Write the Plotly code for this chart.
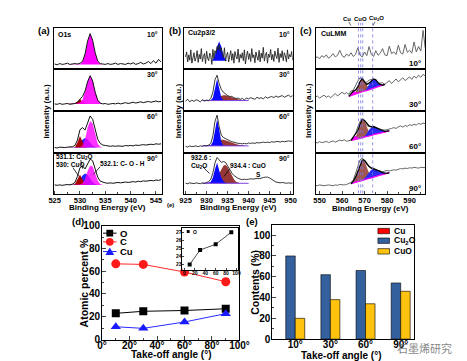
import plotly.graph_objects as go

W, H = 467, 361
def PX(x): return x / W
def PY(y): return 1 - y / H

FONT = "Liberation Sans, Arial, sans-serif"

# ---------------- Panel (a) O1s (x from 525 eV, step 0.5) ----------------
a_x0, a_dx = 525.0, 0.5
a10 = [.13,.11,.14,.12,.13,.15,.12,.13,.14,.13, .15,.19,.37,.68,.86,.70,.40,.20,.14,.13,
       .12,.14,.12,.13,.15,.12,.14,.13,.12,.15, .13,.16,.12,.14,.17,.13,.15,.19,.14,.21, .15,.24,.18]
a30 = [.17,.16,.18,.16,.17,.18,.16,.17,.18,.21, .28,.35,.48,.70,.85,.72,.45,.26,.19,.17,
       .18,.16,.17,.18,.17,.19,.17,.18,.20,.18, .19,.21,.19,.20,.22,.20,.21,.23,.21,.22, .24,.22,.23]
a60 = [.12,.11,.13,.12,.12,.13,.13,.14,.17,.30, .55,.60,.54,.72,.88,.80,.52,.32,.22,.18,
       .17,.16,.15,.16,.15,.16,.16,.15,.17,.16, .17,.16,.18,.17,.18,.19,.18,.19,.20,.19, .21,.20,.21]
a90 = [.21,.20,.21,.20,.21,.22,.21,.23,.27,.42, .63,.67,.60,.72,.84,.80,.58,.40,.30,.27,
       .26,.25,.26,.25,.26,.27,.26,.27,.28,.27, .28,.29,.28,.30,.29,.31,.30,.31,.32,.31, .33,.32,.34]
# fitted components (x from 527 eV, step 0.5), heights above the fit baseline
a_c0, a_cdx = 527.0, 0.5
a_fit_base = [0.12, 0.17, 0.12, 0.21]
a10_mag = [0,0,0,0,0,0,.01,.05,.24,.55,.74,.58,.27,.07,.01,0,0,0,0,0,0]
a30_red = [0,0,0,0,.01,.05,.12,.05,.01,0,0,0,0,0,0,0,0,0,0,0,0]
a30_mag = [0,0,0,0,0,.01,.03,.10,.30,.55,.68,.57,.30,.10,.02,0,0,0,0,0,0]
a60_red = [0,0,0,0,.01,.12,.28,.14,.02,0,0,0,0,0,0,0,0,0,0,0,0]
a60_blue = [0,0,0,0,.01,.04,.11,.19,.23,.20,.12,.05,.02,0,0,0,0,0,0,0,0]
a60_mag = [0,0,0,0,0,0,.01,.05,.20,.48,.64,.58,.30,.09,.02,0,0,0,0,0,0]
a90_red = [0,0,0,0,.02,.12,.25,.13,.02,0,0,0,0,0,0,0,0,0,0,0,0]
a90_blue = [0,0,0,0,.01,.05,.13,.23,.28,.25,.16,.07,.02,0,0,0,0,0,0,0,0]
a90_mag = [0,0,0,0,0,0,.01,.04,.14,.34,.47,.45,.28,.10,.02,0,0,0,0,0,0]

# ---------------- Panel (b) Cu2p3/2 ----------------
b10_x0, b10_dx = 925.0, 0.25
b10 = [.30,.42,.18,.35,.22,.47,.15,.33,.40,.20, .28,.45,.17,.36,.25,.50,.19,.31,.38,.14,
       .44,.27,.21,.39,.33,.12,.48,.26,.45,.38, .55,.47,.60,.44,.52,.35,.28,.52,.20,.34,
       .41,.18,.29,.45,.22,.38,.15,.43,.31,.25, .49,.17,.36,.27,.40,.21,.47,.13,.33,.44,
       .24,.38,.19,.50,.28,.35,.16,.42,.30,.22, .46,.18,.39,.27,.53,.20,.34,.41,.15,.37,
       .29,.48,.23,.36,.19,.44,.32,.26,.51,.17, .38,.28,.45,.21,.40,.33,.18,.47,.25,.36,
       .30,.43,.22]
b_x0, b_dx = 925.0, 0.5
b30 = [.24,.28,.22,.26,.23,.27,.25,.22,.27,.24, .26,.25,.30,.45,.75,.86,.66,.52,.45,.40,
       .37,.35,.35,.32,.30,.31,.28,.30,.27,.31, .29,.32,.30,.28,.33,.30,.32,.29,.34,.31,
       .33,.35,.32,.36,.33,.35,.37,.33,.36,.38, .34,.37]
b60 = [.15,.13,.16,.14,.15,.16,.14,.16,.15,.17, .16,.18,.22,.40,.75,.90,.62,.42,.36,.33,
       .30,.28,.26,.25,.23,.22,.22,.21,.22,.21, .23,.22,.23,.22,.24,.23,.24,.25,.24,.25,
       .24,.26,.25,.26,.27,.25,.27,.26,.27,.28, .27,.28]
b90 = [.25,.24,.26,.25,.24,.26,.25,.24,.26,.25, .27,.29,.35,.50,.75,.88,.82,.76,.78,.76,
       .68,.58,.50,.44,.40,.37,.35,.34,.35,.34, .35,.36,.35,.36,.37,.36,.38,.39,.40,.40,
       .38,.34,.30,.28,.27,.26,.27,.26,.25,.26, .25,.26]
b_c0, b_cdx = 929.0, 0.5
b_fit_base = [0.21, 0.25, 0.16, 0.25]
b10_blue = [0,0,0,0,0,.02,.13,.34,.46,.34,.13,.02,0,0,0,0,0,0,0,0,0,0,0]
b30_blue = [0,0,0,0,.01,.07,.32,.52,.30,.07,.01,0,0,0,0,0,0,0,0,0,0,0,0]
b30_red = [0,0,0,0,.01,.02,.04,.07,.10,.12,.13,.13,.12,.10,.08,.06,.04,.03,.02,.01,0,0,0]
b60_blue = [0,0,0,0,.01,.10,.42,.64,.40,.10,.01,0,0,0,0,0,0,0,0,0,0,0,0]
b60_red = [0,0,0,.01,.02,.04,.07,.10,.13,.15,.15,.14,.12,.10,.08,.06,.04,.03,.02,.01,0,0,0]
b90_blue = [0,0,0,.01,.04,.14,.34,.50,.32,.14,.05,.01,0,0,0,0,0,0,0,0,0,0,0]
b90_red = [0,0,0,0,.01,.03,.07,.14,.25,.36,.43,.45,.40,.30,.19,.10,.04,.01,0,0,0,0,0]

# ---------------- Panel (c) CuLMM (x from 548 eV, step 1) ----------------
c_x0, c_dx = 548.0, 1.0
c10 = [.28,.30,.26,.33,.29,.35,.27,.31,.38,.30, .34,.46,.33,.29,.37,.32,.40,.31,.36,.52,
       .34,.30,.42,.33,.55,.36,.31,.45,.34,.39, .50,.35,.33,.56,.38,.42,.36,.58,.40,.37,
       .60,.41,.46,.39,.66,.42,.55,.44,.94,.50]
c30 = [.33,.36,.31,.35,.38,.33,.36,.32,.37,.42, .36,.40,.45,.41,.44,.40,.48,.50,.62,.72,
       .80,.78,.70,.69,.74,.76,.74,.70,.66,.67, .68,.64,.68,.73,.66,.72,.77,.70,.75,.80,
       .73,.78,.82,.76,.84,.79,.86,.81,.88,.84]
c60 = [.25,.23,.26,.24,.25,.27,.24,.26,.28,.25, .27,.30,.28,.31,.27,.28,.30,.38,.45,.62,
       .75,.80,.73,.65,.63,.62,.63,.60,.58,.56, .55,.54,.55,.56,.58,.60,.58,.62,.64,.61,
       .65,.63,.67,.65,.68,.66,.70,.68,.71,.69]
c90 = [.20,.19,.21,.20,.19,.20,.21,.20,.19,.21, .20,.22,.21,.21,.22,.24,.27,.33,.50,.68,
       .82,.87,.80,.70,.66,.63,.62,.58,.56,.54, .53,.55,.56,.55,.57,.58,.57,.59,.61,.60,
       .62,.61,.63,.62,.64,.63,.62,.64,.63,.63]
c_cdx = 1.0
c30_c0 = 563.0
c30_base = [.35,.37,.39,.40,.42,.44,.46,.48,.49,.51,.53,.55,.57,.58,.60,.62,.64]
c30_brown = [0,0,0,.04,.14,.27,.32,.22,.10,.03,0,0,0,0,0,0,0]
c30_blue = [0,0,0,0,0,0,0,0,.05,.13,.20,.22,.18,.10,.04,0,0]
c30_mag = [0,.04,.09,.06,.02,0,0,0,0,0,0,0,0,0,0,0,0]
c60_c0 = 564.0
c60_base = [.29,.30,.32,.33,.34,.36,.37,.38,.40,.41,.43,.44,.45,.47,.48,.49,.51,.52]
c60_brown = [0,0,.05,.17,.34,.44,.38,.24,.09,.02,0,0,0,0,0,0,0,0]
c60_blue = [0,0,0,0,0,0,.02,.08,.15,.19,.19,.16,.12,.08,.05,.02,0,0]
c60_mag = [0,.07,.08,.03,0,0,0,0,0,0,0,0,0,0,0,0,0,0]
c90_c0 = 564.0
c90_base = [.24,.26,.27,.29,.30,.32,.34,.35,.37,.38,.40,.42,.43,.45,.46,.48,.49,.51]
c90_brown = [0,.02,.10,.24,.40,.50,.44,.28,.13,.04,0,0,0,0,0,0,0,0]
c90_blue = [0,0,0,0,0,0,.03,.09,.16,.20,.20,.17,.13,.09,.05,.02,0,0]
c90_mag = [0,.02,.03,.02,0,0,0,0,0,0,0,0,0,0,0,0,0,0]
c_ref_lines = [567.3, 568.3, 569.2, 573.6]

# ---------------- Panel (d) atomic percent ----------------
angles = [10, 30, 60, 90]
O_pct = [23.0, 24.8, 25.5, 27.0]
C_pct = [66.5, 66.0, 59.3, 50.8]
Cu_pct = [11.2, 9.8, 15.4, 22.7]

# ---------------- Panel (e) contents ----------------
e_cats = ["10°", "30°", "60°", "90°"]
e_cu2o = [80, 62, 66, 54]
e_cuo = [20, 38, 34, 46]

# ======================================================================
fig = go.Figure()
layout = {}

def ids(n):
    return ("x" if n == 1 else f"x{n}"), ("y" if n == 1 else f"y{n}")

def set_axes(n, xdom, ydom, xkw, ykw):
    xa, ya = ids(n)
    base = dict(showline=True, linecolor="black", linewidth=1, mirror=True,
                showgrid=False, zeroline=False)
    layout["xaxis" if n == 1 else f"xaxis{n}"] = dict(base, domain=xdom, anchor=ya, **xkw)
    layout["yaxis" if n == 1 else f"yaxis{n}"] = dict(base, domain=ydom, anchor=xa, **ykw)

def add(n, **kw):
    xa, ya = ids(n)
    fig.add_trace(go.Scatter(xaxis=xa, yaxis=ya, showlegend=False, hoverinfo="skip", **kw))

def grid(x0, dx, n):
    return [x0 + i * dx for i in range(n)]

def fill(n, x0, dx, base, h, color, opacity=1.0):
    xs = grid(x0, dx, len(h))
    if not isinstance(base, list):
        base = [base] * len(h)
    top = [b + v for b, v in zip(base, h)]
    add(n, x=xs + xs[::-1], y=top + base[::-1], mode="lines", fill="toself",
        fillcolor=color, line=dict(width=0), opacity=opacity)

rows_px = [(14.3, 57.3), (57.3, 100.3), (100.3, 143.3), (143.3, 185.7)]
panels = [((42, 154), [524.8, 546.2], 5, 1), ((177, 289), [924.7, 950.5], 5, 5),
          ((313, 426), [548.4, 597.0], 10, 9)]
for (xp, xr, dt, n0) in panels:
    for i, (t, b) in enumerate(rows_px):
        last = (i == 3)
        xkw = dict(range=xr, dtick=dt, showticklabels=last,
                   ticks="inside" if last else "", ticklen=3, tickwidth=1,
                   tickfont=dict(size=7.5), ticklabelstandoff=-1)
        if last:
            xkw["minor"] = dict(ticks="inside", ticklen=2, dtick=dt / 2)
        set_axes(n0 + i, [PX(xp[0]), PX(xp[1])], [PY(b), PY(t)], xkw,
                 dict(range=[0, 1], showticklabels=False, ticks=""))

MAG = "#FF00FF"
RED_A = "#A80000"
BLUE_A = "#1E28FF"
# ---- panel a ----
for n, data, comps in [
    (1, a10, [(a10_mag, MAG, 1.0)]),
    (2, a30, [(a30_red, RED_A, 1.0), (a30_mag, MAG, 0.9)]),
    (3, a60, [(a60_blue, BLUE_A, 1.0), (a60_red, RED_A, 1.0), (a60_mag, MAG, 0.8)]),
    (4, a90, [(a90_blue, BLUE_A, 1.0), (a90_red, RED_A, 1.0), (a90_mag, MAG, 0.8)]),
]:
    for h, col, op in comps:
        fill(n, a_c0, a_cdx, a_fit_base[n - 1], h, col, op)
    add(n, x=grid(a_x0, a_dx, len(data)), y=data, mode="lines",
        line=dict(color="#111111", width=1))

# ---- panel b ----
BLUE_B = "#0A0AFF"
RED_B = "rgba(130,20,20,0.85)"
b_rows = [(5, b10, b10_x0, b10_dx, [(b10_blue, BLUE_B)]),
          (6, b30, b_x0, b_dx, [(b30_red, RED_B), (b30_blue, BLUE_B)]),
          (7, b60, b_x0, b_dx, [(b60_red, RED_B), (b60_blue, BLUE_B)]),
          (8, b90, b_x0, b_dx, [(b90_red, RED_B), (b90_blue, BLUE_B)])]
for n, data, x0, dx, comps in b_rows:
    base = b_fit_base[n - 5]
    for h, col in comps:
        fill(n, b_c0, b_cdx, base, h, col)
    if n > 5:
        xs = grid(b_c0, b_cdx, len(comps[0][0]))
        add(n, x=xs, y=[base] * len(xs), mode="lines", line=dict(color="#7B3FE0", width=1))
    add(n, x=grid(x0, dx, len(data)), y=data, mode="lines",
        line=dict(color="#222222", width=0.9))

# ---- panel c ----
BROWN_C = "#A0564E"
BLUE_C = "#2A2AF0"
add(9, x=grid(c_x0, c_dx, len(c10)), y=c10, mode="lines", line=dict(color="#666666", width=1))
for n, data, c0, base, br, bl, mg in [
    (10, c30, c30_c0, c30_base, c30_brown, c30_blue, c30_mag),
    (11, c60, c60_c0, c60_base, c60_brown, c60_blue, c60_mag),
    (12, c90, c90_c0, c90_base, c90_brown, c90_blue, c90_mag),
]:
    add(n, x=grid(c_x0, c_dx, len(data)), y=data, mode="lines", line=dict(color="#666666", width=1))
    fill(n, c0, c_cdx, base, br, BROWN_C)
    fill(n, c0, c_cdx, base, bl, BLUE_C)
    fill(n, c0, c_cdx, base, mg, MAG)
    xs = grid(c0, c_cdx, len(base))
    add(n, x=xs, y=base, mode="lines", line=dict(color=MAG, width=1.2))
    env = [b + p + q + r for b, p, q, r in zip(base, br, bl, mg)]
    add(n, x=xs, y=env, mode="lines", line=dict(color="black", width=1.3))

# ---- panel d ----
set_axes(13, [PX(92), PX(234)], [PY(336.7), PY(219)],
         dict(range=[0, 100], dtick=20, ticksuffix="°", ticks="inside", ticklen=4,
              tickfont=dict(size=10), ticklabelstandoff=-4,
              minor=dict(ticks="inside", ticklen=2, dtick=10)),
         dict(range=[0, 100], dtick=20, ticks="inside", ticklen=4,
              tickfont=dict(size=10), ticklabelstandoff=-1,
              minor=dict(ticks="inside", ticklen=2, dtick=10)))
add(13, x=angles, y=O_pct, mode="lines+markers", line=dict(color="black", width=1),
    marker=dict(symbol="square", size=8, color="black"))
add(13, x=angles, y=C_pct, mode="lines+markers", line=dict(color="#FF2A2A", width=1),
    marker=dict(symbol="circle", size=9, color="#FF1A1A"))
add(13, x=angles, y=Cu_pct, mode="lines+markers", line=dict(color="#2A2AFF", width=1),
    marker=dict(symbol="triangle-up", size=9, color="#1A1AFF"))

# inset
set_axes(14, [PX(175), PX(232)], [PY(265), PY(221.5)],
         dict(range=[-4, 102], tickvals=[0, 20, 40, 60, 80, 100], ticksuffix="°",
              ticks="inside", ticklen=2, tickfont=dict(size=5), linewidth=0.8,
              ticklabelstandoff=-2),
         dict(range=[22.3, 27.5], dtick=1, ticks="inside", ticklen=2,
              tickfont=dict(size=5), linewidth=0.8, ticklabelstandoff=-1))
add(14, x=angles, y=O_pct, mode="lines+markers", line=dict(color="#222222", width=0.8),
    marker=dict(symbol="square", size=4, color="black"))

# ---- panel e ----
set_axes(15, [PX(268), PX(414)], [PY(336.3), PY(218)],
         dict(type="category", range=[-0.65, 3.37], ticks="", tickfont=dict(size=10),
              ticklabelstandoff=-4),
         dict(range=[0, 110], dtick=20, ticks="inside", ticklen=4, tickfont=dict(size=10),
              ticklabelstandoff=-1,
              minor=dict(ticks="inside", ticklen=2, dtick=10)))
fig.add_trace(go.Bar(x=e_cats, y=e_cu2o, xaxis="x15", yaxis="y15", width=0.27, offset=-0.27,
                     marker=dict(color="#34609E", line=dict(color="black", width=0.6)),
                     showlegend=False, hoverinfo="skip"))
fig.add_trace(go.Bar(x=e_cats, y=e_cuo, xaxis="x15", yaxis="y15", width=0.27, offset=0.0,
                     marker=dict(color="#FFC20E", line=dict(color="black", width=0.6)),
                     showlegend=False, hoverinfo="skip"))

# ---- annotations ----
ann = []
def T(text, x, y, size, xa="center", ya="middle", angle=0, color="black", family=FONT, bold=True):
    ann.append(dict(text=text, x=PX(x), y=PY(y), xref="paper", yref="paper", showarrow=False,
                    xanchor=xa, yanchor=ya, textangle=angle,
                    font=dict(size=size, color=color, family=family,
                              weight="bold" if bold else "normal")))

for lab, x, y in [("(a)", 32, 17), ("(b)", 167, 17), ("(c)", 303, 17), ("(d)", 67, 215), ("(e)", 247, 215)]:
    T(lab, x, y, 9.5)
T("(e)", 163, 198, 6)
T("O1s", 44, 21, 7, xa="left")
T("Cu2p3/2", 179, 20, 7, xa="left")
T("CuLMM", 316, 20, 7, xa="left")
for lab, y in zip(["10°", "30°", "60°", "90°"], [21, 63, 106, 149]):
    T(lab, 152, y, 7, xa="right")
    T(lab, 288, y, 7, xa="right")
for lab, y in zip(["10°", "30°", "60°", "90°"], [51.5, 94, 137, 180]):
    T(lab, 424, y, 8, xa="right")
T("531.1: Cu<sub>2</sub>O", 42, 148, 6.5, xa="left")
T("530: CuO", 42, 156, 6.5, xa="left")
T("532.1: C- O - H", 88, 155, 6.5, xa="left")
T("932.6 :", 182, 148, 6.5, xa="left")
T("Cu<sub>2</sub>O", 182, 157, 6.5, xa="left")
T("934.4 : CuO", 222, 157, 6.5, xa="left")
T("S", 254, 166, 6.5)
T("Cu", 345, 5, 6)
T("CuO", 359, 5, 6)
T("Cu<sub>2</sub>O", 375.5, 5, 6)
for x in (35, 171, 305):
    T("Intensity (a.u.)", x, 100, 8, angle=-90)
for x, y in ((98, 200.5), (233, 200.5), (369, 201)):
    T("Binding Energy (eV)", x, y, 8)
T("Atomic percent %", 73, 278, 10.5, angle=-90)
T("Take-off angle (°)", 163, 352, 10)
T("Take-off angle (°)", 339, 353.5, 10)
T("Contents (%)", 250, 277, 10.5, angle=-90)
# legend (d)
for lab, y in (("O", 226.7), ("C", 235.7), ("Cu", 245.7)):
    T(lab, 109, y, 9.5, xa="left")
# legend (e)
for lab, y in (("Cu", 224.5), ("Cu<sub>2</sub>O", 234.5), ("CuO", 245.5)):
    T(lab, 392, y, 8.5, xa="left")
T("O", 184, 225, 5, xa="left")
T("石墨烯研究", 425, 346, 11, color="rgba(110,110,110,0.85)", family="Noto Sans CJK SC", bold=False)

# ---- shapes ----
shapes = []
def L(x0, y0, x1, y1, color="black", width=0.8, dash="solid"):
    shapes.append(dict(type="line", xref="paper", yref="paper", x0=PX(x0), y0=PY(y0),
                       x1=PX(x1), y1=PY(y1), line=dict(color=color, width=width, dash=dash)))
for xv in c_ref_lines:
    shapes.append(dict(type="line", xref="x12", yref="paper", x0=xv, x1=xv, y0=PY(185.5), y1=PY(9),
                       line=dict(color="#7A7AE8", width=0.8, dash="dot")))
L(62, 159, 68, 168); L(70, 151, 72, 160); L(90, 158, 83, 166)
L(196, 158, 203, 165); L(224, 160, 218, 168)
L(347, 8, 349, 12, width=0.6); L(374, 8, 372, 12, width=0.6)
# legend (d) symbols
L(93, 226.7, 107, 226.7, "black", 1)
L(93, 235.7, 107, 235.7, "#FF2A2A", 1)
L(93, 245.7, 107, 245.7, "#2A2AFF", 1)
shapes.append(dict(type="rect", xref="paper", yref="paper", x0=PX(96.5), x1=PX(103.5),
                   y0=PY(230.2), y1=PY(223.2), fillcolor="black", line=dict(width=0)))
shapes.append(dict(type="circle", xref="paper", yref="paper", x0=PX(96), x1=PX(104),
                   y0=PY(239.7), y1=PY(231.7), fillcolor="#FF1A1A", line=dict(width=0)))
shapes.append(dict(type="path", xref="paper", yref="paper",
                   path=f"M {PX(95.5)},{PY(249.2)} L {PX(104.5)},{PY(249.2)} L {PX(100)},{PY(241.5)} Z",
                   fillcolor="#1A1AFF", line=dict(width=0)))
# inset legend symbol
shapes.append(dict(type="rect", xref="paper", yref="paper", x0=PX(179.5), x1=PX(182.5),
                   y0=PY(226.5), y1=PY(223.5), fillcolor="black", line=dict(width=0)))
# legend (e) boxes
for col, y0, y1 in (("#FF0000", 221.7, 227.3), ("#34609E", 231.7, 237.3), ("#FFC20E", 242.7, 248.3)):
    shapes.append(dict(type="rect", xref="paper", yref="paper", x0=PX(377), x1=PX(389),
                       y0=PY(y1), y1=PY(y0), fillcolor=col, line=dict(color="black", width=0.6)))

fig.update_layout(
    width=W, height=H, margin=dict(l=0, r=0, t=0, b=0),
    paper_bgcolor="white", plot_bgcolor="white",
    font=dict(family=FONT, size=10, color="black", weight="bold"),
    showlegend=False, barmode="overlay",
    annotations=ann, shapes=shapes, **layout,
)
fig.write_html("out.html")
